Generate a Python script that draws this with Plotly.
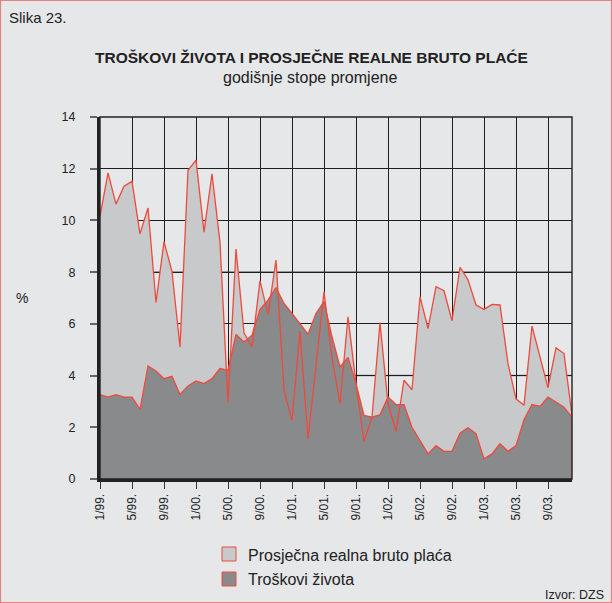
import plotly.graph_objects as go

# ---- data ----
months = list(range(60))  # 1/99 .. 12/03
tick_pos = list(range(0, 60, 4))
tick_labels = ["1/99.", "5/99.", "9/99.", "1/00.", "5/00.", "9/00.", "1/01.", "5/01.",
               "9/01.", "1/02.", "5/02.", "9/02.", "1/03.", "5/03.", "9/03."]

placa = [10.16, 11.84, 10.63, 11.32, 11.51, 9.48, 10.48, 6.83, 9.18, 8.02,
         5.11, 11.94, 12.33, 9.55, 11.80, 9.15, 2.95, 8.89, 5.65, 5.11,
         7.67, 6.36, 8.47, 3.43, 2.26, 5.72, 1.55, 4.40, 7.24, 4.70,
         2.91, 6.27, 3.69, 1.45, 2.39, 6.05, 2.90, 1.84, 3.82, 3.45,
         7.05, 5.82, 7.44, 7.28, 6.12, 8.19, 7.70, 6.73, 6.56, 6.75,
         6.73, 4.46, 3.10, 2.85, 5.91, 4.72, 3.53, 5.07, 4.85, 2.46]

troskovi = [3.26, 3.17, 3.26, 3.17, 3.17, 2.69, 4.37, 4.18, 3.88, 3.97,
            3.27, 3.60, 3.79, 3.69, 3.88, 4.27, 4.20, 5.59, 5.30, 5.56,
            6.56, 6.92, 7.40, 6.79, 6.40, 6.00, 5.60, 6.40, 6.86, 5.50,
            4.33, 4.70, 3.69, 2.46, 2.39, 2.48, 3.17, 2.88, 2.88, 2.00,
            1.49, 0.97, 1.29, 1.07, 1.07, 1.77, 1.98, 1.75, 0.78, 0.97,
            1.36, 1.07, 1.29, 2.29, 2.88, 2.81, 3.17, 2.98, 2.78, 2.39]

y_ticks = [0, 2, 4, 6, 8, 10, 12, 14]
name_placa = "Prosječna realna bruto plaća"
name_trosk = "Troškovi života"

# ---- styles ----
BG = "#e6e7e9"
LIGHT = "#c8c9cb"
DARK = "#898a8c"
RED = "#ee4a3c"
FONT = "Liberation Sans, Arial, sans-serif"

W, H = 612, 603
L, R, T, B = 100, 40, 117, 124
PW, PH = W - L - R, H - T - B


def px(x):
    return (x - L) / PW


def py(y):
    return (H - B - y) / PH


fig = go.Figure()
fig.add_trace(go.Scatter(x=months, y=placa, fill="tozeroy", fillcolor=LIGHT,
                         mode="lines", line=dict(width=0, color=LIGHT),
                         showlegend=False, hoverinfo="skip"))
fig.add_trace(go.Scatter(x=months, y=troskovi, fill="tozeroy", fillcolor=DARK,
                         mode="lines", line=dict(width=0, color=DARK),
                         showlegend=False, hoverinfo="skip"))
fig.add_trace(go.Scatter(x=months, y=placa, mode="lines", name=name_placa,
                         line=dict(width=1.3, color=RED), showlegend=False))
fig.add_trace(go.Scatter(x=months, y=troskovi, mode="lines", name=name_trosk,
                         line=dict(width=1.3, color=RED), showlegend=False))

shapes = []
# grey emphasised grid lines
for gv in (4, 8):
    shapes.append(dict(type="line", xref="paper", yref="y", x0=0, x1=1, y0=gv, y1=gv,
                       line=dict(color="#7b7b7b", width=1.6), layer="between"))
# closing edge of the dark area at the right end
shapes.append(dict(type="line", xref="x", yref="y", x0=months[-1], x1=months[-1],
                   y0=0, y1=troskovi[-1], line=dict(color=RED, width=1.3)))
# plot frame
shapes.append(dict(type="rect", xref="paper", yref="paper", x0=0, x1=1, y0=0, y1=1,
                   line=dict(color="#222", width=1.4)))
# figure frame
shapes.append(dict(type="rect", xref="paper", yref="paper",
                   x0=px(0.5), x1=px(W - 0.5), y0=py(H - 0.5), y1=py(0.5),
                   line=dict(color="#e58080", width=1.2)))
# legend swatches
for ytop, col in ((547, LIGHT), (572, DARK)):
    shapes.append(dict(type="rect", xref="paper", yref="paper",
                       x0=px(222), x1=px(236), y0=py(ytop + 14), y1=py(ytop),
                       fillcolor=col, line=dict(color=RED, width=1)))

annotations = [
    dict(text="Slika 23.", x=px(7), y=py(18), xref="paper", yref="paper",
         xanchor="left", yanchor="middle", showarrow=False,
         font=dict(size=15, color="#222", family=FONT)),
    dict(text="<b>TROŠKOVI ŽIVOTA I PROSJEČNE REALNE BRUTO PLAĆE</b>", x=px(311), y=py(58),
         xref="paper", yref="paper", xanchor="center", yanchor="middle", showarrow=False,
         font=dict(size=15.5, color="#222", family=FONT)),
    dict(text="godišnje stope promjene", x=px(310), y=py(77),
         xref="paper", yref="paper", xanchor="center", yanchor="middle", showarrow=False,
         font=dict(size=16, color="#222", family=FONT)),
    dict(text="%", x=px(22), y=py(298), xref="paper", yref="paper",
         xanchor="center", yanchor="middle", showarrow=False,
         font=dict(size=14, color="#222", family=FONT)),
    dict(text=name_placa, x=px(246), y=py(555), xref="paper", yref="paper",
         xanchor="left", yanchor="middle", showarrow=False,
         font=dict(size=16, color="#222", family=FONT)),
    dict(text=name_trosk, x=px(246), y=py(579), xref="paper", yref="paper",
         xanchor="left", yanchor="middle", showarrow=False,
         font=dict(size=16, color="#222", family=FONT)),
    dict(text="Izvor: DZS", x=px(606), y=py(595), xref="paper", yref="paper",
         xanchor="right", yanchor="middle", showarrow=False,
         font=dict(size=12.5, color="#222", family=FONT)),
]

fig.update_layout(
    width=W, height=H,
    margin=dict(l=L, r=R, t=T, b=B, pad=0),
    paper_bgcolor=BG, plot_bgcolor=BG,
    showlegend=False,
    shapes=shapes, annotations=annotations,
    font=dict(family=FONT, color="#222"),
    xaxis=dict(range=[months[0], months[-1]], tickmode="array", tickvals=tick_pos,
               ticktext=tick_labels, tickangle=-90, showgrid=True, gridcolor="#1e1e1e",
               gridwidth=1.2, zeroline=False, showline=True, linecolor="#222", linewidth=3,
               ticks="outside", ticklen=7, tickcolor="#333", tickwidth=1.2,
               tickfont=dict(size=12, color="#222", family=FONT)),
    yaxis=dict(range=[0, 14], tickmode="array", tickvals=y_ticks, showgrid=True,
               gridcolor="#1e1e1e", gridwidth=1.2, zeroline=False, showline=True,
               linecolor="#222", linewidth=3, ticks="outside", ticklen=7,
               tickcolor="#666", tickwidth=1.5, ticklabelstandoff=12,
               tickfont=dict(size=12.5, color="#222", family=FONT)),
)

fig.write_html("out.html", config={"displayModeBar": False},
               post_script="document.body.style.margin='0';")
